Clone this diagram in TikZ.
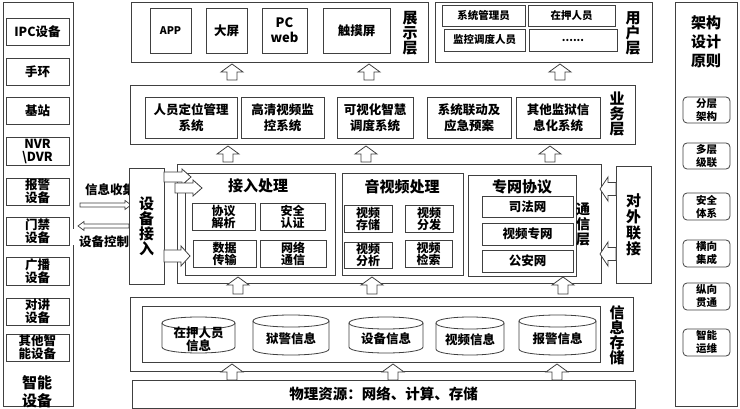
\documentclass[tikz,border=0pt]{standalone}
\usepackage{fontspec}
\setmainfont{Noto Sans CJK SC}
\definecolor{lc}{HTML}{404040}
\tikzset{
  x=1pt, y=-1pt,
  ln/.style={draw=lc, line width=0.8pt},
  bx/.style={ln, fill=white, inner sep=0pt, outer sep=0pt, align=center},
  fa/.style={font=\bfseries\fontsize{12.5}{13}\selectfont},
  fb/.style={font=\bfseries\fontsize{12.5}{16}\selectfont},
  fc/.style={font=\bfseries\fontsize{10.5}{13}\selectfont},
  fd/.style={font=\bfseries\fontsize{12}{12}\selectfont},
  ft/.style={font=\bfseries\fontsize{15}{15}\selectfont},
  lbl/.style={inner sep=0pt, align=center},
  barr/.style={draw=lc, line width=0.8pt, fill=white},
  tarr/.style={draw=lc, line width=0.7pt, fill=white},
}
\newcommand\bx[7]{\node[bx,#6,minimum width={(#4-#2)*1pt},minimum height={(#5-#3)*1pt}] (#1) at ({(#2+#4)/2},{(#3+#5)/2}) {#7};}
\newcommand\uarr[3]{\draw[barr] ({#1-5},#3) -- ({#1-5},{#2+8}) -- ({#1-11},{#2+8}) -- (#1,#2) -- ({#1+11},{#2+8}) -- ({#1+5},{#2+8}) -- ({#1+5},#3) -- cycle;}
\newcommand\rarr[7]{\draw[#7] (#2,{#1-#4}) -- ({#3-#6},{#1-#4}) -- ({#3-#6},{#1-#5}) -- (#3,#1) -- ({#3-#6},{#1+#5}) -- ({#3-#6},{#1+#4}) -- (#2,{#1+#4}) -- cycle;}
\newcommand\larr[7]{\draw[#7] (#2,{#1-#4}) -- ({#3+#6},{#1-#4}) -- ({#3+#6},{#1-#5}) -- (#3,#1) -- ({#3+#6},{#1+#5}) -- ({#3+#6},{#1+#4}) -- (#2,{#1+#4}) -- cycle;}
\newcommand\cyl[6]{%
  \draw[ln, fill=white] (#2,{#3+6}) -- (#2,{#5-6}) .. controls (#2,{#5+2}) and (#4,{#5+2}) .. (#4,{#5-6}) -- (#4,{#3+6});
  \draw[ln, fill=white] (#2,{#3+6}) .. controls (#2,{#3-2}) and (#4,{#3-2}) .. (#4,{#3+6}) .. controls (#4,{#3+14}) and (#2,{#3+14}) .. cycle;
  \node[lbl, fa] (#1) at ({(#2+#4)/2},{(#3+#5)/2+4}) {#6};}
\begin{document}
\begin{tikzpicture}
\useasboundingbox[fill=white] (0,0) rectangle (740,409);

% ---------- left panel ----------
\draw[ln] (73,229) -- (73,2) -- (3,2) -- (3,406) -- (73,406) -- (73,245);
\bx{ipc}{6}{18}{69}{45}{fa}{IPC设备}
\bx{sh}{6}{58}{69}{85}{fa}{手环}
\bx{jz}{6}{97}{69}{124}{fa}{基站}
\bx{nvr}{6}{137}{69}{165}{fa}{NVR\\\textbackslash DVR}
\bx{bj}{6}{178}{69}{205}{fa}{报警\\设备}
\bx{mj}{6}{217}{69}{245}{fa}{门禁\\设备}
\bx{gb}{6}{257}{69}{285}{fa}{广播\\设备}
\bx{dj}{6}{298}{69}{325}{fa}{对讲\\设备}
\bx{qt}{6}{334}{69}{361}{fa}{其他智\\能设备}
\node[lbl, font=\bfseries\fontsize{15}{18}\selectfont] (zn) at (37,392) {智能\\设备};

% ---------- top ----------
\bx{zs}{131}{2}{428}{62}{}{}
\node[lbl, ft] (zsl) at (410,33) {展\\示\\层};
\bx{app}{150}{8}{191}{53}{fc}{APP}
\bx{dp}{206}{8}{247}{53}{fa}{大屏}
\bx{pc}{262}{8}{307}{53}{font=\bfseries\fontsize{13}{15}\selectfont}{PC\\web}
\bx{cm}{323}{8}{390}{53}{fa}{触摸屏}

\bx{yh}{435}{2}{652}{62}{}{}
\node[lbl, ft] (yhl) at (633,33) {用\\户\\层};
\bx{u1}{442}{5}{525}{26}{fc}{系统管理员}
\bx{u2}{528}{5}{615}{26}{fc}{在押人员}
\bx{u3}{444}{29}{525}{51}{fc}{监控调度人员}
\bx{u4}{529}{29}{617}{51}{fc}{......}

% ---------- right panel ----------
\bx{jg}{675}{2}{737}{406}{}{}
\node[lbl, font=\bfseries\fontsize{15}{19}\selectfont] (jgl) at (706,42) {架构\\设计\\原则};
\bx{p1}{683}{97}{730}{123}{fc,rounded corners=4pt}{分层\\架构}
\bx{p2}{683}{143}{730}{169}{fc,rounded corners=4pt}{多层\\级联}
\bx{p3}{683}{193}{730}{220}{fc,rounded corners=4pt}{安全\\体系}
\bx{p4}{683}{240}{730}{267}{fc,rounded corners=4pt}{横向\\集成}
\bx{p5}{683}{283}{730}{310}{fc,rounded corners=4pt}{纵向\\贯通}
\bx{p6}{683}{329}{730}{356}{fc,rounded corners=4pt}{智能\\运维}

% ---------- business layer ----------
\bx{yw}{130}{85}{635}{144}{}{}
\node[lbl, ft] (ywl) at (617,114) {业\\务\\层};
\bx{b1}{145}{97}{237}{138}{fb}{人员定位管理\\系统}
\bx{b2}{241}{97}{324}{138}{fb}{高清视频监\\控系统}
\bx{b3}{337}{97}{413}{138}{fb}{可视化智慧\\调度系统}
\bx{b4}{427}{97}{511}{138}{fb}{系统联动及\\应急预案}
\bx{b5}{516}{97}{600}{138}{fb}{其他监狱信\\息化系统}

\uarr{232}{64}{80}
\uarr{369}{64}{80}
\uarr{560}{64}{80}
\uarr{228}{146}{162}
\uarr{366}{146}{162}
\uarr{550}{146}{162}

% ---------- communication layer ----------
\bx{tx}{177}{164}{601}{283}{}{}
\bx{jr}{185}{173}{335}{275}{}{}
\node[lbl, ft] (jrl) at (258,186) {接入处理};
\bx{j1}{192}{203}{255}{230}{fd}{协议\\解析}
\bx{j2}{260}{203}{325}{230}{fd}{安全\\认证}
\bx{j3}{193}{240}{256}{267}{fd}{数据\\传输}
\bx{j4}{260}{240}{326}{267}{fd}{网络\\通信}

\bx{ysp}{342}{173}{463}{275}{}{}
\node[lbl, ft] (yspl) at (402,187) {音视频处理};
\bx{v1}{344}{205}{392}{232}{fd}{视频\\存储}
\bx{v2}{405}{205}{453}{232}{fd}{视频\\分发}
\bx{v3}{344}{242}{392}{268}{fd}{视频\\分析}
\bx{v4}{405}{240}{452}{267}{fd}{视频\\检索}

\bx{zw}{468}{175}{576}{276}{}{}
\node[lbl, ft] (zwl) at (522,187) {专网协议};
\bx{n1}{482}{196}{573}{217}{fa}{司法网}
\bx{n2}{482}{223}{573}{245}{fa}{视频专网}
\bx{n3}{482}{250}{573}{272}{fa}{公安网}
\node[lbl, font=\bfseries\fontsize{14}{15}\selectfont] (txl) at (583,224) {通\\信\\层};

% labels and thin arrows at left
\node[lbl, fa, anchor=west] (xx) at (85,190) {信息收集};
\node[lbl, fa, anchor=west] (kz) at (79,242) {设备控制};
\rarr{205}{80}{131}{2}{4.5}{6}{tarr}
\larr{226}{129}{78}{2}{4.5}{6}{tarr}

\bx{sbjr}{129}{168}{164}{284}{font=\bfseries\fontsize{15}{15}\selectfont}{设\\备\\接\\入}
\bx{dwlj}{616}{166}{651}{283}{font=\bfseries\fontsize{15}{16}\selectfont}{对\\外\\联\\接}

\rarr{177}{164}{191}{5}{8}{9}{barr}
\rarr{188}{175}{202}{5}{8}{9}{barr}
\rarr{256}{164}{190}{6}{10}{9}{barr}
\larr{189}{616}{600}{6.5}{12}{8}{barr}
\larr{254}{616}{600}{6.5}{12}{8}{barr}

\uarr{238}{277}{294}
\uarr{372}{277}{294}
\uarr{563}{277}{294}

% ---------- storage ----------
\bx{cc}{130}{297}{633}{371}{}{}
\node[lbl, ft] (ccl) at (617,335) {信\\息\\存\\储};
\bx{cci}{142}{306}{600}{362}{}{}
\cyl{c1}{162}{317}{235}{353}{在押人员\\信息}
\cyl{c2}{253}{315}{329}{355}{狱警信息}
\cyl{c3}{349}{317}{423}{353}{设备信息}
\cyl{c4}{436}{317}{504}{355}{视频信息}
\cyl{c5}{519}{315}{596}{355}{报警信息}

\uarr{232}{364}{380}
\uarr{393}{364}{380}
\uarr{557}{364}{380}

\bx{wl}{132}{380}{635}{408}{font=\bfseries\fontsize{14.5}{15}\selectfont}{物理资源：网络、计算、存储}
\end{tikzpicture}
\end{document}
